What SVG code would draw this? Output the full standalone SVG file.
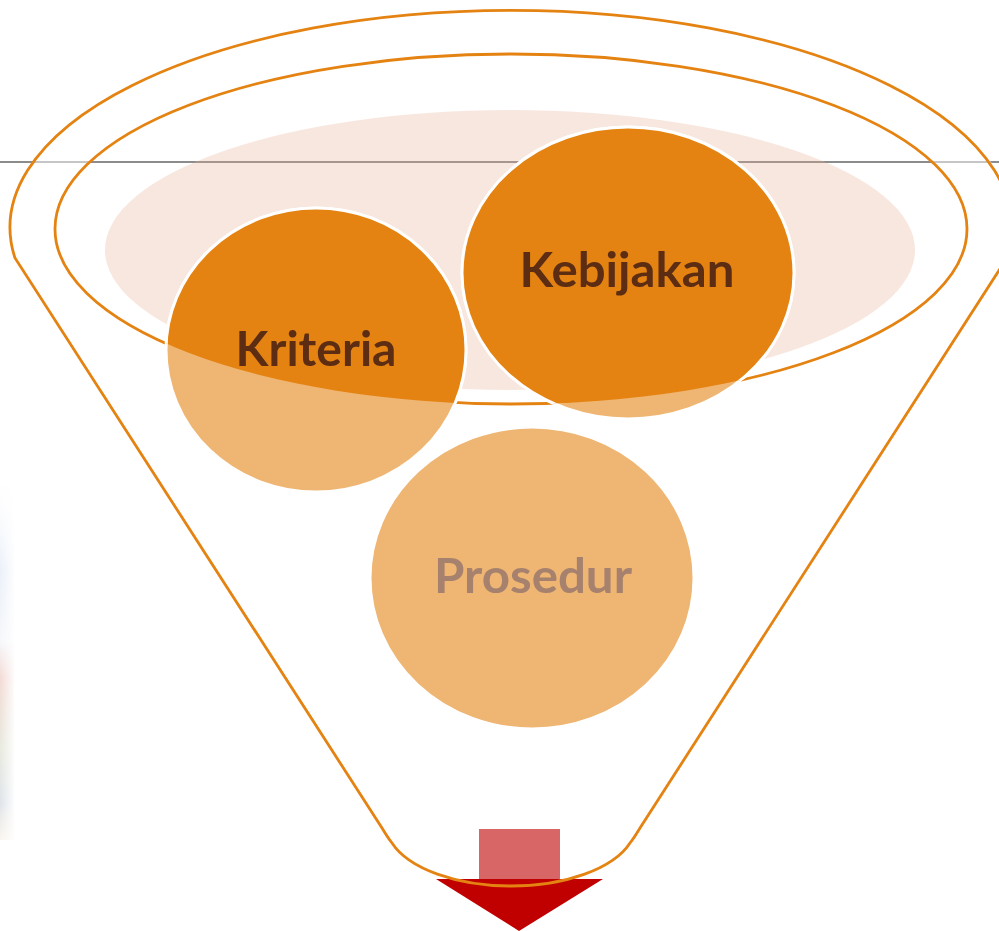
<svg xmlns="http://www.w3.org/2000/svg" width="999" height="931" viewBox="0 0 999 931">
<style>
.lbl{font-family:Lato,"Open Sans","Liberation Sans",sans-serif;font-weight:bold;font-size:48px;text-anchor:middle}
.dk{fill:#5C2D12}
.circL{fill:#EFB572;stroke:#FFFFFF;stroke-width:3}
.circD{fill:#E48312;stroke:#FFFFFF;stroke-width:3}
.funnel{fill:none;stroke:#E48312;stroke-width:2.8}
</style>
<defs>
<clipPath id="inner"><ellipse cx="511" cy="229" rx="456" ry="175"/></clipPath>
<linearGradient id="strip" x1="0" y1="0" x2="0" y2="1">
<stop offset="0" stop-color="#F4F6FA" stop-opacity="0"/>
<stop offset="0.25" stop-color="#DDE6F5"/>
<stop offset="0.45" stop-color="#F0F2F6"/>
<stop offset="0.55" stop-color="#EBC2BA"/>
<stop offset="0.75" stop-color="#D8DCC8"/>
<stop offset="0.9" stop-color="#C9D2DC"/>
<stop offset="1" stop-color="#E6D8C0" stop-opacity="0.4"/>
</linearGradient>
<linearGradient id="stripH" x1="0" y1="0" x2="1" y2="0">
<stop offset="0" stop-color="#FFFFFF" stop-opacity="0"/>
<stop offset="1" stop-color="#FFFFFF" stop-opacity="1"/>
</linearGradient>
</defs>

<g id="background">
<rect x="0" y="480" width="14" height="360" fill="url(#strip)" opacity="0.6"/>
<rect x="0" y="480" width="16" height="360" fill="url(#stripH)"/>
<line x1="0" y1="162" x2="999" y2="162" stroke="#8C8C8C" stroke-width="2"/>
<ellipse cx="510" cy="250" rx="405" ry="140" fill="#E8AF94" fill-opacity="0.3"/>
<path d="M 12 227 A 501 217 0 1 1 1014 227 A 501 217 0 1 1 12 227 Z M 55 229 A 456 175 0 1 0 967 229 A 456 175 0 1 0 55 229 Z" fill="#FFFFFF" fill-opacity="0.5" fill-rule="evenodd"/>
</g>

<g id="connectors">
<g id="arrow">
<rect x="479" y="829" width="81" height="51" fill="#D96666"/>
<polygon points="436,879 603,879 519,931" fill="#C00000"/>
</g>
</g>

<g id="funnel">
<path class="funnel" d="M 15 258 A 501 217 0 1 1 1007 258 L 640 828 Q 634 838 630 843 A 125 62 0 0 1 392 843 Q 388 838 382 828 Z"/>
<ellipse class="funnel" cx="511" cy="229" rx="456" ry="175"/>
</g>

<g id="node-kriteria">
<ellipse class="circL" cx="316" cy="350" rx="150" ry="142"/>
<ellipse class="circD" cx="316" cy="350" rx="150" ry="142" clip-path="url(#inner)"/>
<text class="lbl dk" x="316" y="366" textLength="161" lengthAdjust="spacingAndGlyphs">Kriteria</text>
</g>

<g id="node-kebijakan">
<ellipse class="circL" cx="628" cy="273" rx="166" ry="146"/>
<ellipse class="circD" cx="628" cy="273" rx="166" ry="146" clip-path="url(#inner)"/>
<text class="lbl dk" x="627" y="287" textLength="215" lengthAdjust="spacingAndGlyphs">Kebijakan</text>
</g>

<g id="node-prosedur">
<ellipse class="circL" cx="532" cy="578" rx="162" ry="151"/>
<text class="lbl" x="533" y="593" fill="#A6826E" textLength="198" lengthAdjust="spacingAndGlyphs">Prosedur</text>
</g>
</svg>
